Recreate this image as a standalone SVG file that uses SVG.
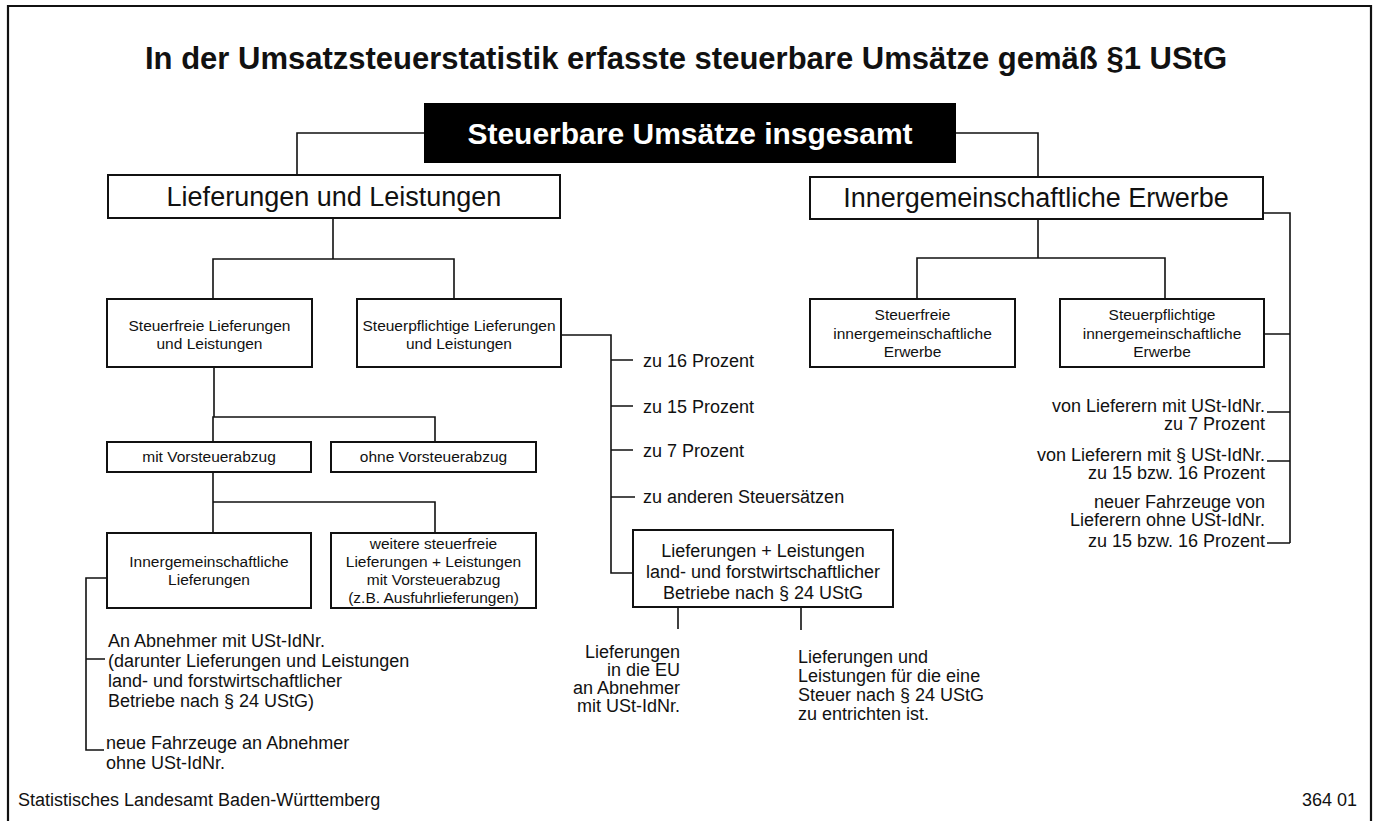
<svg xmlns="http://www.w3.org/2000/svg" width="1377" height="821" viewBox="0 0 1377 821">
<style>
text{font-family:"Liberation Sans",Arial,sans-serif;fill:#111}
.box{fill:#fff;stroke:#111;stroke-width:2}
.c{fill:none;stroke:#111;stroke-width:1.6}
.title{font-size:31px;font-weight:bold}
.big{font-size:27px}
.s{font-size:15.5px}
.m{font-size:18px}
.mid{text-anchor:middle}
.end{text-anchor:end}
</style>
<rect x="0" y="0" width="1377" height="821" fill="#fff"/>
<path d="M8,821 V6 H1371 V821" fill="none" stroke="#111" stroke-width="2.2"/>
<text class="title mid" x="686" y="69">In der Umsatzsteuerstatistik erfasste steuerbare Umsätze gemäß §1 UStG</text>

<g id="connectors">
<path class="c" d="M424,133 H297 V175"/>
<path class="c" d="M956,133 H1038 V177"/>
<path class="c" d="M333,218 V259 M213,299 V259 H454 V299"/>
<path class="c" d="M214,367 V417 M213,442 V417 H435 V442"/>
<path class="c" d="M213,472 V502 M213,533 V502 H435 V533"/>
<path class="c" d="M561,335 H611 V573 H633 M611,360 H633 M611,406 H633 M611,450 H633 M611,497 H635"/>
<path class="c" d="M678,607 V629 M801,607 V630"/>
<path class="c" d="M1038,219 V258 M917,299 V258 H1165 V299"/>
<path class="c" d="M1263,213 H1290 V543 M1264,334 H1290 M1267,412 H1290 M1267,461 H1290 M1267,543 H1290"/>
<path class="c" d="M107,578 H86 V750 H104 M86,659 H105"/>
</g>

<g id="n-total">
<rect x="424" y="103" width="532" height="60" fill="#000"/>
<text x="690" y="144" text-anchor="middle" font-size="30" font-weight="bold" style="fill:#fff">Steuerbare Umsätze insgesamt</text>
</g>

<g id="n-lieferungen">
<rect class="box" x="108" y="175" width="452" height="43"/>
<text class="big mid" x="334" y="206">Lieferungen und Leistungen</text>
</g>

<g id="n-ig-erwerbe">
<rect class="box" x="810" y="177" width="453" height="42"/>
<text class="big mid" x="1036" y="207">Innergemeinschaftliche Erwerbe</text>
</g>

<g id="n-steuerfrei">
<rect class="box" x="107" y="299" width="205" height="68"/>
<text class="s mid" x="209.5" y="331">Steuerfreie Lieferungen</text>
<text class="s mid" x="209.5" y="349">und Leistungen</text>
</g>

<g id="n-steuerpflichtig">
<rect class="box" x="357" y="299" width="204" height="68"/>
<text class="s mid" x="459" y="331">Steuerpflichtige Lieferungen</text>
<text class="s mid" x="459" y="349">und Leistungen</text>
</g>

<g id="n-ig-steuerfrei">
<rect class="box" x="810" y="299" width="205" height="68"/>
<text class="s mid" x="912.5" y="320">Steuerfreie</text>
<text class="s mid" x="912.5" y="338.5">innergemeinschaftliche</text>
<text class="s mid" x="912.5" y="357">Erwerbe</text>
</g>

<g id="n-ig-steuerpflichtig">
<rect class="box" x="1060" y="299" width="204" height="68"/>
<text class="s mid" x="1162" y="320">Steuerpflichtige</text>
<text class="s mid" x="1162" y="338.5">innergemeinschaftliche</text>
<text class="s mid" x="1162" y="357">Erwerbe</text>
</g>

<g id="n-mit-vst">
<rect class="box" x="107" y="442" width="204" height="30"/>
<text class="s mid" x="209" y="462">mit Vorsteuerabzug</text>
</g>

<g id="n-ohne-vst">
<rect class="box" x="331" y="442" width="205" height="30"/>
<text class="s mid" x="433.5" y="462">ohne Vorsteuerabzug</text>
</g>

<g id="n-ig-lieferungen">
<rect class="box" x="107" y="533" width="204" height="75"/>
<text class="s mid" x="209" y="567">Innergemeinschaftliche</text>
<text class="s mid" x="209" y="585">Lieferungen</text>
</g>

<g id="n-weitere">
<rect class="box" x="331" y="533" width="205" height="75"/>
<text class="s mid" x="433.5" y="549">weitere steuerfreie</text>
<text class="s mid" x="433.5" y="567">Lieferungen + Leistungen</text>
<text class="s mid" x="433.5" y="585">mit Vorsteuerabzug</text>
<text class="s mid" x="433.5" y="603">(z.B. Ausfuhrlieferungen)</text>
</g>

<g id="n-land">
<rect class="box" x="633" y="530" width="260" height="77"/>
<text class="m mid" x="763" y="557">Lieferungen + Leistungen</text>
<text class="m mid" x="763" y="578">land- und forstwirtschaftlicher</text>
<text class="m mid" x="763" y="599">Betriebe nach § 24 UStG</text>
</g>

<g id="labels-steuersaetze">
<text class="m" x="643" y="367">zu 16 Prozent</text>
<text class="m" x="643" y="413">zu 15 Prozent</text>
<text class="m" x="643" y="457">zu 7 Prozent</text>
<text class="m" x="643" y="503">zu anderen Steuersätzen</text>
</g>

<g id="labels-erwerbe">
<text class="m end" x="1265" y="412">von Lieferern mit USt-IdNr.</text>
<text class="m end" x="1265" y="430">zu 7 Prozent</text>
<text class="m end" x="1265" y="461">von Lieferern mit § USt-IdNr.</text>
<text class="m end" x="1265" y="479">zu 15 bzw. 16 Prozent</text>
<text class="m end" x="1265" y="508">neuer Fahrzeuge von</text>
<text class="m end" x="1265" y="526">Lieferern ohne USt-IdNr.</text>
<text class="m end" x="1265" y="547">zu 15 bzw. 16 Prozent</text>
</g>

<g id="labels-ig-lieferungen">
<text class="m" x="108" y="647">An Abnehmer mit USt-IdNr.</text>
<text class="m" x="108" y="667">(darunter Lieferungen und Leistungen</text>
<text class="m" x="108" y="687">land- und forstwirtschaftlicher</text>
<text class="m" x="108" y="707">Betriebe nach § 24 UStG)</text>
<text class="m" x="106" y="749">neue Fahrzeuge an Abnehmer</text>
<text class="m" x="106" y="769">ohne USt-IdNr.</text>
</g>

<g id="labels-land">
<text class="m end" x="680" y="658">Lieferungen</text>
<text class="m end" x="680" y="676">in die EU</text>
<text class="m end" x="680" y="694">an Abnehmer</text>
<text class="m end" x="680" y="712">mit USt-IdNr.</text>
<text class="m" x="798" y="663">Lieferungen und</text>
<text class="m" x="798" y="682">Leistungen für die eine</text>
<text class="m" x="798" y="701">Steuer nach § 24 UStG</text>
<text class="m" x="798" y="720">zu entrichten ist.</text>
</g>

<g id="footer">
<text class="m" x="18" y="806">Statistisches Landesamt Baden-Württemberg</text>
<text class="m end" x="1357" y="806">364 01</text>
</g>
</svg>
